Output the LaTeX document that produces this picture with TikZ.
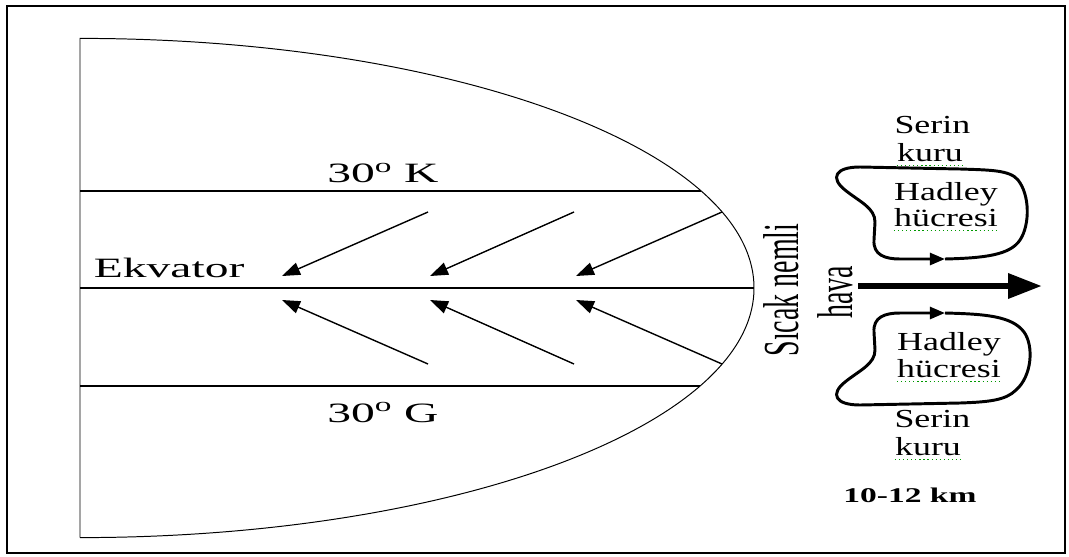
\documentclass[tikz,border=0pt]{standalone}
\usepackage{fontspec}
\setmainfont{Liberation Serif}
\newfontfamily\widefont{Liberation Serif}[FakeStretch=1.7]
\newfontfamily\cellfont{Liberation Serif}[FakeStretch=1.38]
\newfontfamily\kmfont{Liberation Serif}[FakeStretch=1.6]
\usetikzlibrary{arrows.meta}

\begin{document}
\begin{tikzpicture}[
    lat/.style={font=\widefont\fontsize{19.9}{24}\selectfont, inner sep=0pt, anchor=base},
    cell/.style={font=\cellfont\fontsize{18.5}{22}\selectfont, inner sep=0pt, anchor=base},
    vert/.style={font=\fontsize{19.9}{24}\selectfont, inner sep=0pt, anchor=base, rotate=90},
    arrow/.style={-{Triangle[length=4.5mm, width=3.2mm]}, line width=1pt},
    flow/.style={-{Triangle[length=8.5mm, width=6mm]}, line width=4.6pt},
    hadleyloop/.style={-{Triangle[length=3.8mm, width=3mm]}, line width=2.1pt, line join=round},
    spell/.style={green!60!black, dotted, line width=0.9pt},
]
\useasboundingbox (-2,7.2) rectangle (24.725,-6.7);

% frame
\draw[line width=1.4pt] (-1.825,7.05) rectangle (24.625,-6.625);

% half earth
\draw[line width=0.7pt] (0,-6.24) -- (0,6.24) arc[start angle=90, end angle=-90, x radius=16.85, y radius=6.24];
\draw[line width=0.8pt] (0,2.425) -- (15.53,2.425);
\draw[line width=0.8pt] (0,0) -- (16.85,0);
\draw[line width=0.8pt] (0,-2.45) -- (15.5,-2.45);

\node[lat] (north) at (7.575,2.63) {30\textsuperscript{o} K};
\node[lat] (south) at (7.575,-3.35) {30\textsuperscript{o} G};
\node[lat, anchor=base west] (ekvator) at (0.34,0.275) {Ekvator};

% trade winds
\coordinate (ns1) at (8.7,1.9);
\coordinate (ne1) at (5.05,0.3);
\coordinate (ns2) at (12.35,1.9);
\coordinate (ne2) at (8.75,0.3);
\coordinate (ns3) at (16.05,1.9);
\coordinate (ne3) at (12.4,0.3);
\coordinate (ss1) at (8.7,-1.9);
\coordinate (se1) at (5.05,-0.3);
\coordinate (ss2) at (12.35,-1.9);
\coordinate (se2) at (8.75,-0.3);
\coordinate (ss3) at (16.05,-1.9);
\coordinate (se3) at (12.4,-0.3);

\draw[arrow] (ns1) -- (ne1);
\draw[arrow] (ns2) -- (ne2);
\draw[arrow] (ns3) -- (ne3);
\draw[arrow] (ss1) -- (se1);
\draw[arrow] (ss2) -- (se2);
\draw[arrow] (ss3) -- (se3);

% rising air
\node[vert] (sicak) at (17.95,-0.05) {\scalebox{1}[1.8]{Sıcak nemli}};
\node[vert] (hava) at (19.3,-0.1) {\scalebox{1}[1.8]{hava}};

\coordinate (flowstart) at (19.45,0.05);
\coordinate (flowend) at (24.05,0.05);
\draw[flow] (flowstart) -- (flowend);

% hadley cells
\coordinate (h1) at (21.625,0.725);
\draw[hadleyloop] (h1) .. controls (22.625,0.75) and (23.25,0.825) .. (23.5,1.2)
    .. controls (23.75,1.575) and (23.75,2.325) .. (23.45,2.7)
    .. controls (23.25,2.95) and (22.75,2.95) .. (22.0,2.975)
    -- (19.5,3.025)
    .. controls (18.875,3.025) and (18.75,2.75) .. (19.125,2.45)
    .. controls (19.5,2.15) and (19.875,2.0) .. (19.875,1.65)
    -- (19.85,1.2)
    .. controls (19.825,0.825) and (20.125,0.725) .. (20.5,0.725)
    -- (h1);

\coordinate (h2) at (21.625,-0.625);
\draw[hadleyloop] (h2) .. controls (22.625,-0.65) and (23.3,-0.7) .. (23.6,-1.1)
    .. controls (23.85,-1.45) and (23.8,-2.2) .. (23.4,-2.55)
    .. controls (23.15,-2.8) and (22.75,-2.85) .. (22.0,-2.875)
    -- (19.5,-2.925)
    .. controls (18.875,-2.925) and (18.75,-2.65) .. (19.125,-2.35)
    .. controls (19.5,-2.05) and (19.875,-1.9) .. (19.875,-1.55)
    -- (19.85,-1.1)
    .. controls (19.825,-0.725) and (20.125,-0.625) .. (20.5,-0.625)
    -- (h2);

\node[cell] (serin1) at (21.31,3.875) {Serin};
\node[cell] (kuru1) at (21.25,3.175) {kuru};
\node[cell] (hadley1) at (21.65,2.2) {Hadley};
\node[cell] (hucre1) at (21.65,1.55) {hücresi};

\node[cell] (hadley2) at (21.725,-1.55) {Hadley};
\node[cell] (hucre2) at (21.725,-2.225) {hücresi};
\node[cell] (serin2) at (21.31,-3.475) {Serin};
\node[cell] (kuru2) at (21.2,-4.175) {kuru};

\node[font=\kmfont\bfseries\fontsize{14.9}{18}\selectfont, inner sep=0pt, anchor=base] (km) at (20.75,-5.35) {10-12 km};

\draw[spell] ([yshift=-3pt]kuru1.base west) -- ([yshift=-3pt]kuru1.base east);
\draw[spell] ([yshift=-3pt]hucre1.base west) -- ([yshift=-3pt]hucre1.base east);
\draw[spell] ([yshift=-3pt]hucre2.base west) -- ([yshift=-3pt]hucre2.base east);
\draw[spell] ([yshift=-3pt]kuru2.base west) -- ([yshift=-3pt]kuru2.base east);

\end{tikzpicture}
\end{document}
